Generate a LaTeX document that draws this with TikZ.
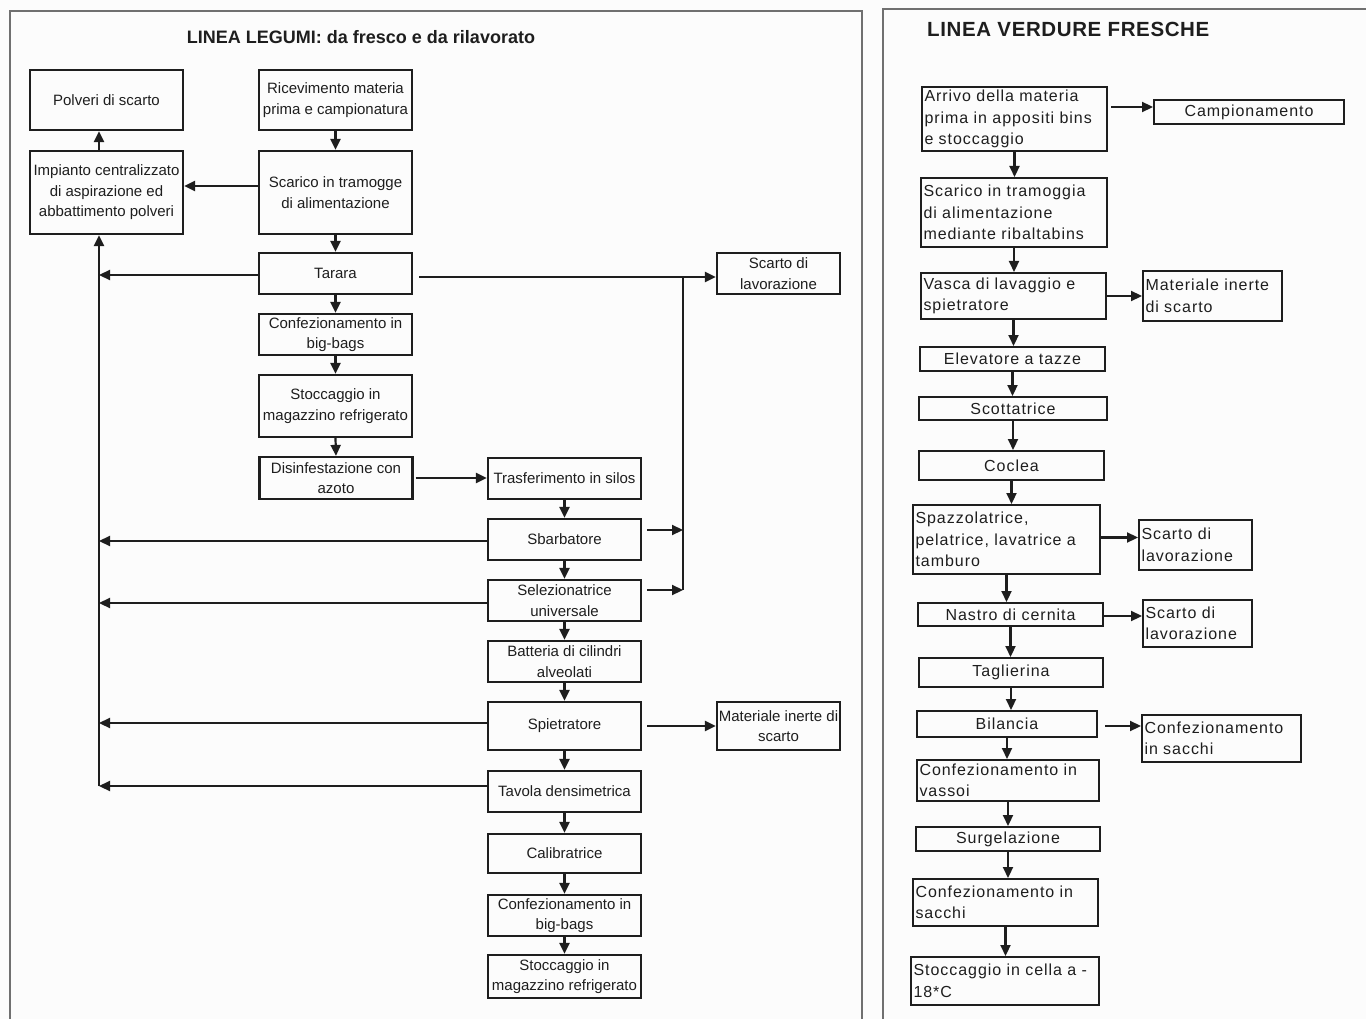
\documentclass[tikz,border=0pt]{standalone}
\usepackage{fontspec}
\setmainfont{Liberation Sans}
\newfontfamily\spacedsans[LetterSpace=6]{Liberation Sans}
\newfontfamily\titlesans[LetterSpace=3]{Liberation Sans}
\usetikzlibrary{arrows.meta}
\definecolor{ink}{HTML}{1E1E1E}
\definecolor{framegray}{HTML}{707070}
\definecolor{paper}{HTML}{FCFCFC}
\newcommand{\lfont}{\fontsize{15}{20.5}\selectfont}
\newcommand{\rfont}{\spacedsans\fontsize{16}{21.5}\selectfont}

\begin{document}
\begin{tikzpicture}[x=1pt,y=-1pt,
  lbox/.style={draw=ink, line width=2.2pt, font=\lfont, text=ink, align=center, inner sep=1pt},
  lcol/.style={lbox, minimum width=153pt},
  rbox/.style={draw=ink, line width=2pt, font=\rfont, text=ink, inner xsep=2.5pt, inner ysep=0pt, align=center},
  rleft/.style={rbox, align=left, text width=#1},
  flow/.style={draw=ink, line width=2.2pt, -{Triangle[length=11pt,width=10pt]}},
  link/.style={draw=ink, line width=2.2pt},
  panel/.style={draw=framegray, line width=1.2pt}]

\fill[paper] (0,0) rectangle (1366,1019);
\useasboundingbox (0,0) rectangle (1366,1019);

% panel frames
\draw[panel] (10,1019) -- (10,11) -- (862,11) -- (862,1019);
\draw[panel] (883,1019) -- (883,9) -- (1366,9);

% ---------------- LINEA LEGUMI ----------------
\node[font=\fontsize{18}{22}\selectfont\bfseries, text=ink, inner sep=0pt] (ttlL) at (361,37) {LINEA LEGUMI: da fresco e da rilavorato};

\node[lcol, minimum height=60pt] (pol) at (106.5,100) {Polveri di scarto};
\node[lcol, minimum height=83pt] (imp) at (106.5,192.5) {Impianto centralizzato\\di aspirazione ed\\abbattimento polveri};

\node[lcol, minimum height=60pt] (ric) at (335.5,100) {Ricevimento materia\\prima e campionatura};
\node[lcol, minimum height=83pt] (sca) at (335.5,192.5) {Scarico in tramogge\\di alimentazione};
\node[lcol, minimum height=41pt] (tar) at (335.5,273.5) {Tarara};
\node[lcol, minimum height=41pt] (cbb) at (335.5,334.5) {Confezionamento in\\big-bags};
\node[lcol, minimum height=62pt] (sto) at (335.5,406) {Stoccaggio in\\magazzino refrigerato};
\node[lcol, minimum height=42pt] (dis) at (336,478) {Disinfestazione con\\azoto};

\node[lcol, minimum height=41pt] (tra) at (564.5,478.5) {Trasferimento in silos};
\node[lcol, minimum height=41pt] (sba) at (564.5,539.5) {Sbarbatore};
\node[lcol, minimum height=41pt] (sel) at (564.5,600.5) {Selezionatrice\\universale};
\node[lcol, minimum height=41pt] (bat) at (564.5,661.5) {Batteria di cilindri\\alveolati};
\node[lcol, minimum height=48pt] (spi) at (564.5,726) {Spietratore};
\node[lcol, minimum height=41pt] (tav) at (564.5,791.5) {Tavola densimetrica};
\node[lcol, minimum height=39pt] (cal) at (564.5,853.5) {Calibratrice};
\node[lcol, minimum height=41pt] (cb2) at (564.5,915.5) {Confezionamento in\\big-bags};
\node[lcol, minimum height=43pt] (st2) at (564.5,976.5) {Stoccaggio in\\magazzino refrigerato};

\node[lbox, minimum width=123pt, minimum height=41pt] (scl) at (778.5,273.5) {Scarto di\\lavorazione};
\node[lbox, minimum width=123pt, minimum height=48pt] (mat) at (778.5,726) {Materiale inerte di\\scarto};

% collector lines
\coordinate (busL) at (99,786);
\coordinate (busR) at (683,590);

% main line, top to bottom
\draw[flow] (ric.south) -- (sca.north);
\draw[flow] (sca.south) -- (tar.north);
\draw[flow] (tar.south) -- (cbb.north);
\draw[flow] (cbb.south) -- (sto.north);
\draw[flow] (sto.south) -- (dis.north);
\draw[flow, shorten <=2pt] (dis.east) -- (dis.east -| tra.west);
\draw[flow] (tra.south) -- (sba.north);
\draw[flow] (sba.south) -- (sel.north);
\draw[flow] (sel.south) -- (bat.north);
\draw[flow] (bat.south) -- (spi.north);
\draw[flow] (spi.south) -- (tav.north);
\draw[flow] (tav.south) -- (cal.north);
\draw[flow] (cal.south) -- (cb2.north);
\draw[flow] (cb2.south) -- (st2.north);

% dust extraction
\draw[flow] ([yshift=6.5pt]sca.west) -- ([yshift=6.5pt]sca.west -| imp.east);
\draw[flow] (imp.north -| busL) -- (pol.south -| busL);
\draw[flow] ([yshift=-1.5pt]tar.west) -- ([yshift=-1.5pt]tar.west -| busL);
\draw[flow] ([yshift=-1.5pt]sba.west) -- ([yshift=-1.5pt]sba.west -| busL);
\draw[flow] ([yshift=-2.5pt]sel.west) -- ([yshift=-2.5pt]sel.west -| busL);
\draw[flow] ([yshift=3pt]spi.west) -- ([yshift=3pt]spi.west -| busL);
\draw[flow] ([yshift=5.5pt]tav.west) -- (busL);
\draw[flow] (busL) -- (busL |- imp.south);

% processing waste
\draw[flow, shorten <=6pt] ([yshift=-3.5pt]tar.east) -- ([yshift=-3.5pt]tar.east -| scl.west);
\draw[link] ([yshift=-3.5pt]tar.east -| busR) -- (busR);
\draw[flow, shorten <=5pt] ([yshift=9.5pt]sba.east) -- ([yshift=9.5pt]sba.east -| busR);
\draw[flow, shorten <=5pt] ([yshift=10.5pt]sel.east) -- (busR);
\draw[flow, shorten <=5pt] (spi.east) -- (mat.west);

% ---------------- LINEA VERDURE FRESCHE ----------------
\node[font=\titlesans\fontsize{20.5}{25}\selectfont\bfseries, text=ink, anchor=west, inner sep=0pt] (ttlR) at (927,29.5) {LINEA VERDURE FRESCHE};

\node[rleft=180pt, minimum height=64pt] (arr) at (1014.5,119) {Arrivo della materia\\prima in appositi bins\\e stoccaggio};
\node[rbox, minimum width=190pt, minimum height=24pt] (cam) at (1249,112) {Campionamento};
\node[rleft=181pt, minimum height=69pt] (scr) at (1014,212.5) {Scarico in tramoggia\\di alimentazione\\mediante ribaltabins};
\node[rleft=180pt, minimum height=46pt] (vas) at (1013.5,296) {Vasca di lavaggio e\\spietratore};
\node[rleft=134pt, minimum height=50pt] (min) at (1212.5,296) {Materiale inerte\\di scarto};
\node[rbox, minimum width=185pt, minimum height=24pt] (ele) at (1012.5,359) {Elevatore a tazze};
\node[rbox, minimum width=188pt, minimum height=23pt] (sco) at (1013,408.5) {Scottatrice};
\node[rbox, minimum width=185pt, minimum height=29pt] (coc) at (1011.5,465.5) {Coclea};
\node[rleft=182pt, minimum height=69pt] (spa) at (1006.5,539.5) {Spazzolatrice,\\pelatrice, lavatrice a\\tamburo};
\node[rleft=108pt, minimum height=50pt] (sl1) at (1195.5,545) {Scarto di\\lavorazione};
\node[rbox, minimum width=185pt, minimum height=23pt] (nas) at (1010.5,614.5) {Nastro di cernita};
\node[rleft=104pt, minimum height=47pt] (sl2) at (1197.5,623.5) {Scarto di\\lavorazione};
\node[rbox, minimum width=184pt, minimum height=29pt] (tag) at (1011,672.5) {Taglierina};
\node[rbox, minimum width=180pt, minimum height=26pt] (bil) at (1007,724) {Bilancia};
\node[rleft=154pt, minimum height=47pt] (cfs) at (1221.5,738.5) {Confezionamento\\in sacchi};
\node[rleft=177pt, minimum height=41pt] (vso) at (1008,780.5) {Confezionamento in\\vassoi};
\node[rbox, minimum width=184pt, minimum height=24pt] (sur) at (1008,839) {Surgelazione};
\node[rleft=180pt, minimum height=47pt] (cfz) at (1005.5,902.5) {Confezionamento in\\sacchi};
\node[rleft=183pt, minimum height=48pt] (cel) at (1005,981) {Stoccaggio in cella a -\\18*C};

\draw[flow] (arr.south) -- (arr.south |- scr.north);
\draw[flow] (scr.south) -- (scr.south |- vas.north);
\draw[flow] (vas.south) -- (vas.south |- ele.north);
\draw[flow] (ele.south) -- (ele.south |- sco.north);
\draw[flow] (sco.south) -- (sco.south |- coc.north);
\draw[flow] (coc.south) -- (coc.south |- spa.north);
\draw[flow] (spa.south) -- (spa.south |- nas.north);
\draw[flow] (nas.south) -- (nas.south |- tag.north);
\draw[flow] (tag.south) -- (tag.south |- bil.north);
\draw[flow] (bil.south) -- (bil.south |- vso.north);
\draw[flow] (vso.south) -- (vso.south |- sur.north);
\draw[flow] (sur.south) -- (sur.south |- cfz.north);
\draw[flow] (cfz.south) -- (cfz.south |- cel.north);

\draw[flow, shorten <=3pt] ([yshift=12pt]arr.east) -- ([yshift=12pt]arr.east -| cam.west);
\draw[flow] (vas.east) -- (vas.east -| min.west);
\draw[flow] ([yshift=2pt]spa.east) -- ([yshift=2pt]spa.east -| sl1.west);
\draw[flow] ([yshift=-1.5pt]nas.east) -- ([yshift=-1.5pt]nas.east -| sl2.west);
\draw[flow, shorten <=7pt] ([yshift=-2pt]bil.east) -- ([yshift=-2pt]bil.east -| cfs.west);

\end{tikzpicture}
\end{document}
